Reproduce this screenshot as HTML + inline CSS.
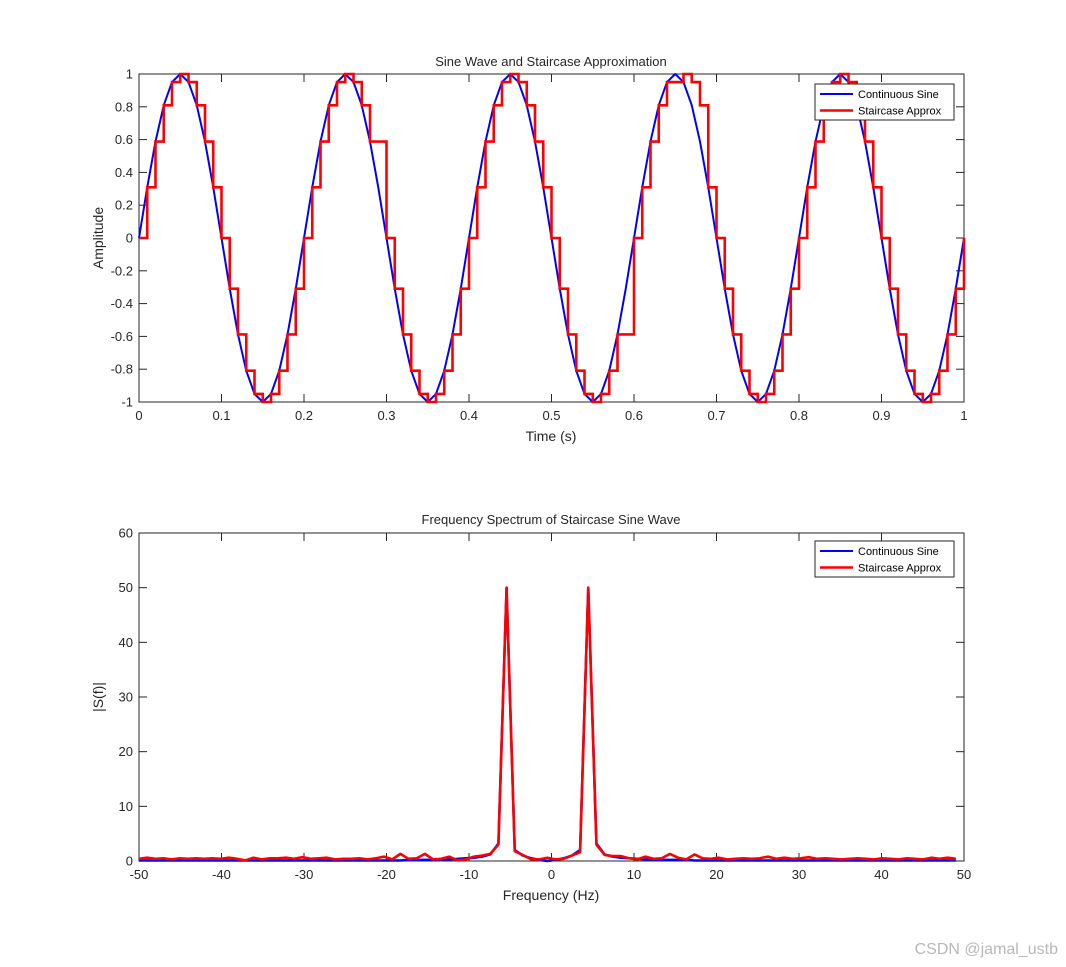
<!DOCTYPE html>
<html><head><meta charset="utf-8"><style>
body{margin:0;background:#fff;}
svg{display:block;font-family:"Liberation Sans",Arial,sans-serif;}
</style></head><body>
<svg id="fig" width="1066" height="967" viewBox="0 0 1066 967" xmlns="http://www.w3.org/2000/svg">
<rect x="0" y="0" width="1066" height="967" fill="#fff"/>
<text x="1058" y="954" text-anchor="end" font-size="16" fill="#b8b8b8">CSDN @jamal_ustb</text>
</svg>
<script>
// ---- Top chart data ----
const timeValues = [0,0.01,0.02,0.03,0.04,0.05,0.06,0.07,0.08,0.09,0.1,0.11,0.12,0.13,0.14,0.15,0.16,0.17,0.18,0.19,0.2,0.21,0.22,0.23,0.24,0.25,0.26,0.27,0.28,0.29,0.3,0.31,0.32,0.33,0.34,0.35,0.36,0.37,0.38,0.39,0.4,0.41,0.42,0.43,0.44,0.45,0.46,0.47,0.48,0.49,0.5,0.51,0.52,0.53,0.54,0.55,0.56,0.57,0.58,0.59,0.6,0.61,0.62,0.63,0.64,0.65,0.66,0.67,0.68,0.69,0.7,0.71,0.72,0.73,0.74,0.75,0.76,0.77,0.78,0.79,0.8,0.81,0.82,0.83,0.84,0.85,0.86,0.87,0.88,0.89,0.9,0.91,0.92,0.93,0.94,0.95,0.96,0.97,0.98,0.99,1];
const sineValues = [0,.309,.588,.809,.951,1,.951,.809,.588,.309,0,-.309,-.588,-.809,-.951,-1,-.951,-.809,-.588,-.309,
0,.309,.588,.809,.951,1,.951,.809,.588,.309,0,-.309,-.588,-.809,-.951,-1,-.951,-.809,-.588,-.309,
0,.309,.588,.809,.951,1,.951,.809,.588,.309,0,-.309,-.588,-.809,-.951,-1,-.951,-.809,-.588,-.309,
0,.309,.588,.809,.951,1,.951,.809,.588,.309,0,-.309,-.588,-.809,-.951,-1,-.951,-.809,-.588,-.309,
0,.309,.588,.809,.951,1,.951,.809,.588,.309,0,-.309,-.588,-.809,-.951,-1,-.951,-.809,-.588,-.309,0];
const stairValues = [0,.309,.588,.809,.951,1,.951,.809,.588,.309,0,-.309,-.588,-.809,-.951,-1,-.951,-.809,-.588,-.309,
0,.309,.588,.809,.951,1,.951,.809,.588,.588,0,-.309,-.588,-.809,-.951,-1,-.951,-.809,-.588,-.309,
0,.309,.588,.809,.951,1,.951,.809,.588,.309,0,-.309,-.588,-.809,-.951,-1,-.951,-.809,-.588,-.588,
0,.309,.588,.809,.951,.951,1,.951,.809,.309,0,-.309,-.588,-.809,-.951,-1,-.951,-.809,-.588,-.309,
0,.309,.588,.809,.951,1,.951,.809,.588,.309,0,-.309,-.588,-.809,-.951,-1,-.951,-.809,-.588,-.309,0];
const topXTicks = [0,0.1,0.2,0.3,0.4,0.5,0.6,0.7,0.8,0.9,1];
const topXTickLabels = ["0","0.1","0.2","0.3","0.4","0.5","0.6","0.7","0.8","0.9","1"];
const topYTicks = [-1,-0.8,-0.6,-0.4,-0.2,0,0.2,0.4,0.6,0.8,1];
const topYTickLabels = ["-1","-0.8","-0.6","-0.4","-0.2","0","0.2","0.4","0.6","0.8","1"];
// ---- Bottom chart data ----
const freqStart = -50, freqStep = 100/101;
const specContinuous = [0.1,0.1,0.1,0.1,0.1,0.1,0.1,0.1,0.1,0.1,0.1,0.1,0.1,0.1,0.1,0.1,0.1,0.1,0.1,0.1,
0.1,0.1,0.1,0.1,0.1,0.1,0.1,0.1,0.1,0.1,0.1,0.1,0.1,0.2,0.2,0.2,0.2,0.3,0.3,0.4,0.5,0.6,0.8,1.2,3.2,50,2,1,0.5,0.2,
0,0.2,0.5,1,2,50,3.2,1.2,0.8,0.6,0.5,0.4,0.3,0.3,0.2,0.2,0.2,0.2,0.1,0.1,0.1,0.1,0.1,0.1,0.1,0.1,0.1,0.1,0.1,0.1,
0.1,0.1,0.1,0.1,0.1,0.1,0.1,0.1,0.1,0.1,0.1,0.1,0.1,0.1,0.1,0.1,0.1,0.1,0.1,0.1,0.1];
const specStaircase = [0.4,0.6,0.4,0.5,0.3,0.5,0.4,0.5,0.4,0.5,0.4,0.6,0.4,0.1,0.6,0.3,0.5,0.5,0.6,0.4,
0.7,0.4,0.5,0.6,0.3,0.4,0.4,0.5,0.3,0.5,0.8,0.3,1.3,0.4,0.5,1.3,0.3,0.4,0.8,0.1,0.3,0.8,1.0,1.3,3.0,50,1.8,1.1,0.3,0.3,
0.6,0.3,0.4,1.0,1.6,50,3.0,1.1,0.9,0.9,0.5,0.3,0.8,0.4,0.5,1.3,0.6,0.3,1.2,0.5,0.4,0.6,0.3,0.4,0.5,0.4,0.5,0.8,0.4,0.6,
0.4,0.5,0.7,0.4,0.5,0.4,0.3,0.4,0.5,0.4,0.3,0.5,0.4,0.3,0.5,0.4,0.3,0.6,0.4,0.6,0.4];
const botXTicks = [-50,-40,-30,-20,-10,0,10,20,30,40,50];
const botXTickLabels = ["-50","-40","-30","-20","-10","0","10","20","30","40","50"];
const botYTicks = [0,10,20,30,40,50,60];
const botYTickLabels = ["0","10","20","30","40","50","60"];

const NS = "http://www.w3.org/2000/svg";
const svg = document.getElementById("fig");
function mk(tag, attrs, parent){const e=document.createElementNS(NS,tag);for(const k in attrs)e.setAttribute(k,attrs[k]);(parent||svg).appendChild(e);return e;}

function axes(box, xmin,xmax,ymin,ymax, xt,xtl,yt,ytl, prefix){
  const sx=v=>box.x+(v-xmin)/(xmax-xmin)*box.w;
  const sy=v=>box.y+box.h-(v-ymin)/(ymax-ymin)*box.h;
  const g=mk("g",{});
  
  
  const r=mk("rect",{x:box.x,y:box.y,width:box.w,height:box.h,fill:"#fff",stroke:"#262626","stroke-width":1},g);
  
  
  xt.forEach((v,i)=>{
    const x=sx(v);
    const t1=mk("line",{x1:x,x2:x,y1:box.y+box.h,y2:box.y+box.h-8,stroke:"#262626"},g);
    
    
    const t2=mk("line",{x1:x,x2:x,y1:box.y,y2:box.y+8,stroke:"#262626"},g);
    
    
    const lb=mk("text",{x:x,y:box.y+box.h+18,"text-anchor":"middle","font-size":13,fill:"#262626"},g);
    lb.textContent=xtl[i];
    
    
  });
  yt.forEach((v,i)=>{
    const y=sy(v);
    const t1=mk("line",{x1:box.x,x2:box.x+8,y1:y,y2:y,stroke:"#262626"},g);
    
    
    const t2=mk("line",{x1:box.x+box.w,x2:box.x+box.w-8,y1:y,y2:y,stroke:"#262626"},g);
    
    
    const lb=mk("text",{x:box.x-6,y:y+4.5,"text-anchor":"end","font-size":13,fill:"#262626"},g);
    lb.textContent=ytl[i];
    
    
  });
  return {sx,sy};
}
function legend(x,y,prefix){
  const g=mk("g",{});
  
  
  const r=mk("rect",{x:x,y:y,width:139,height:36,fill:"#fff",stroke:"#262626","stroke-width":1},g);
  
  
  [["Continuous Sine","#0000ff",2],["Staircase Approx","#ff0000",2.5]].forEach((e,i)=>{
    const yy=y+10+i*16.5;
    const l=mk("line",{x1:x+5,x2:x+38,y1:yy,y2:yy,stroke:e[1],"stroke-width":e[2]},g);
    
    
    const t=mk("text",{x:x+43,y:yy+4,"font-size":11,fill:"#000"},g);
    t.textContent=e[0];
    
    
  });
}
function txt(s,x,y,size,name,rot){
  const t=mk("text",{x:x,y:y,"text-anchor":"middle","font-size":size,fill:"#262626"});
  if(rot)t.setAttribute("transform","rotate(-90 "+x+" "+y+")");
  t.textContent=s;
  
  
}

// Top chart
const A=axes({x:139,y:74,w:825,h:328},0,1,-1,1,topXTicks,topXTickLabels,topYTicks,topYTickLabels,"top");
let d="";
timeValues.forEach((t,i)=>{d+=(i?"L":"M")+A.sx(t).toFixed(2)+","+A.sy(sineValues[i]).toFixed(2);});
const p1=mk("path",{d:d,fill:"none",stroke:"#0000ff","stroke-width":2,"stroke-linejoin":"round"});


d="";
timeValues.forEach((t,i)=>{
  const x=A.sx(t).toFixed(2), y=A.sy(stairValues[i]).toFixed(2);
  if(i===0) d+="M"+x+","+y; else d+="L"+x+","+A.sy(stairValues[i-1]).toFixed(2)+"L"+x+","+y;
});
const p2=mk("path",{d:d,fill:"none",stroke:"#ff0000","stroke-width":2.6});


legend(815,84,"top");
txt("Sine Wave and Staircase Approximation",551,66,13,"top-title");
txt("Time (s)",551,441,14,"top-x-axis-title");
txt("Amplitude",103,238,14,"top-y-axis-title",true);

// Bottom chart
const B=axes({x:139,y:533,w:825,h:328},-50,50,0,60,botXTicks,botXTickLabels,botYTicks,botYTickLabels,"bottom");
d="";
specContinuous.forEach((v,i)=>{d+=(i?"L":"M")+B.sx(freqStart+i*freqStep).toFixed(2)+","+B.sy(v).toFixed(2);});
const p3=mk("path",{d:d,fill:"none",stroke:"#0000ff","stroke-width":2.5,"stroke-linejoin":"round"});


d="";
specStaircase.forEach((v,i)=>{d+=(i?"L":"M")+B.sx(freqStart+i*freqStep).toFixed(2)+","+B.sy(v).toFixed(2);});
const p4=mk("path",{d:d,fill:"none",stroke:"#ff0000","stroke-width":2.6,"stroke-linejoin":"round"});


legend(815,541,"bottom");
txt("Frequency Spectrum of Staircase Sine Wave",551,524,13,"bottom-title");
txt("Frequency (Hz)",551,900,14,"bottom-x-axis-title");
txt("|S(f)|",103,697,14,"bottom-y-axis-title",true);
</script>
</body></html>
